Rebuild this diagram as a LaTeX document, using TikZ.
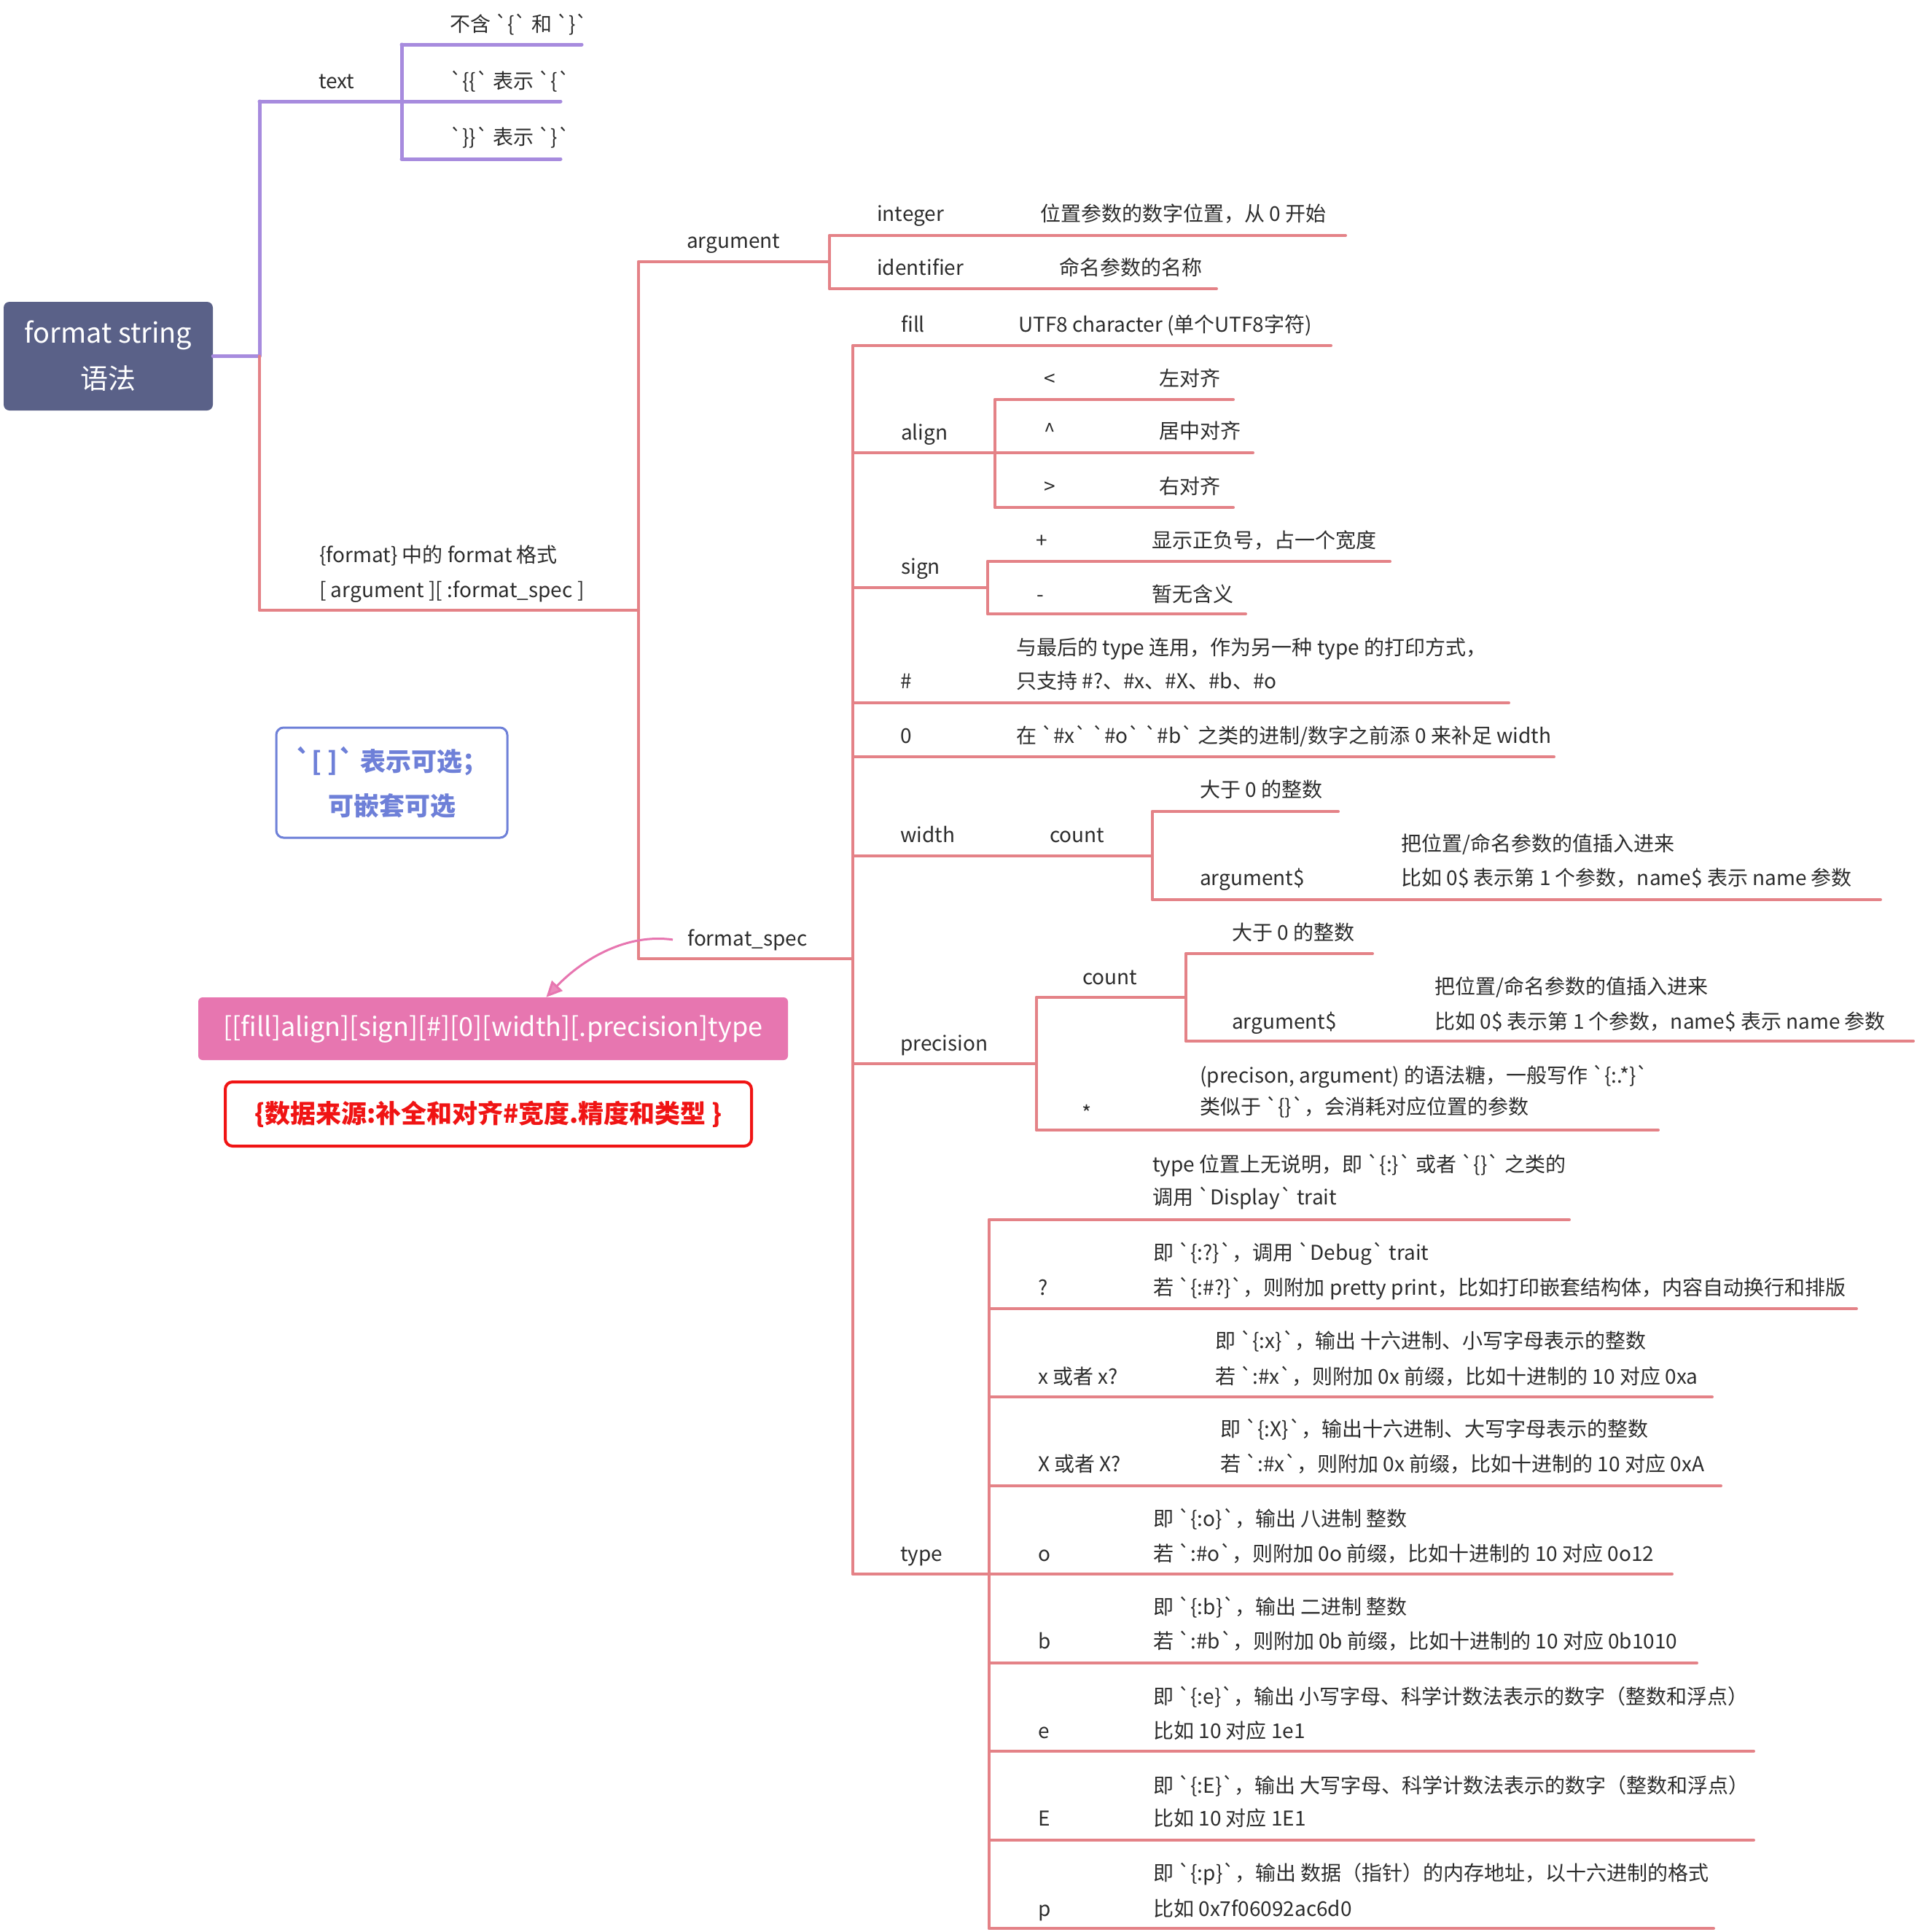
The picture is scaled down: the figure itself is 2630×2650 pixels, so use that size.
\documentclass[tikz,border=0pt]{standalone}
\usepackage{fontspec}
\newfontfamily\mf{Noto Sans CJK SC}
\usetikzlibrary{arrows.meta,calc}
\definecolor{rline}{RGB}{228,130,135}
\definecolor{pline}{RGB}{167,139,222}
\definecolor{rootc}{RGB}{90,97,136}
\definecolor{pinkc}{RGB}{231,118,176}
\definecolor{bluec}{RGB}{110,128,216}
\definecolor{redc}{RGB}{240,20,20}
\definecolor{txtc}{RGB}{45,45,45}
\newcommand\UL[5][rl]{\coordinate (#2-a) at (#3,-#5); \coordinate (#2-b) at (#4,-#5); \draw[#1] (#2-a) -- (#2-b);}
\newcommand\TX[4]{\node[lbl] (#1) at (#2,-#3) {#4};}
\newcommand\TC[4]{\node[lblc] (#1) at (#2,-#3) {#4};}
\begin{document}
\begin{tikzpicture}[x=1pt,y=1pt,
  lbl/.style={anchor=base west, inner sep=0pt, text=txtc, font=\mf\fontsize{28}{34}\selectfont},
  lblc/.style={lbl, anchor=base},
  rl/.style={draw=rline, line width=4pt, line cap=round},
  pl/.style={draw=pline, line width=5pt, line cap=round},
  rootbox/.style={rectangle, rounded corners=8pt, fill=rootc, text=white, minimum width=287pt, minimum height=149pt, inner sep=0pt, align=center, font=\mf\fontsize{38}{63}\selectfont},
  pinkbox/.style={rectangle, rounded corners=6pt, fill=pinkc, text=white, minimum width=809pt, minimum height=86pt, inner sep=0pt, font=\mf\fontsize{36}{40}\selectfont},
  redbox/.style={rectangle, rounded corners=10pt, draw=redc, line width=4pt, fill=white, text=redc, minimum width=722pt, minimum height=88pt, inner sep=0pt, font=\mf\bfseries\fontsize{35}{40}\selectfont},
  bluebox/.style={rectangle, rounded corners=10pt, draw=bluec, line width=3pt, fill=white, text=bluec, minimum width=317pt, minimum height=151pt, inner sep=0pt, align=center, font=\mf\bfseries\fontsize{35}{61}\selectfont},
]
\fill[white] (0,0) rectangle (2630,-2650);
\useasboundingbox (0,0) rectangle (2630,-2650);

% root
\node[rootbox] (root) at (148.5,-488.5) {format string\\语法};

% purple branch
\coordinate (rootJ) at (356,-488.5);
\draw[pl] (root.east) -- (rootJ);
\UL[pl]{textL}{356}{551}{139}
\draw[pl] (rootJ) -- (textL-a);
\UL[pl]{tA}{551}{798}{61}
\UL[pl]{tB}{551}{769}{139}
\UL[pl]{tC}{551}{769}{218}
\draw[pl] (tA-a) -- (tC-a);

% red branch
\UL{fmtL}{356}{876}{837}
\draw[rl] (rootJ) -- (fmtL-a);
\UL{argL}{876}{1138}{359}
\UL{fsL}{876}{1170}{1315}
\draw[rl] (argL-a) -- (fsL-a);
\UL{intL}{1138}{1846}{323}
\UL{idL}{1138}{1669}{396}
\draw[rl] (intL-a) -- (idL-a);

\UL{fillL}{1170}{1826}{474}
\UL{alignL}{1170}{1365}{621}
\UL{aA}{1365}{1692}{548}
\UL{aB}{1365}{1719}{621}
\UL{aC}{1365}{1692}{696}
\draw[rl] (aA-a) -- (aC-a);
\UL{signL}{1170}{1355}{806}
\UL{sA}{1355}{1907}{770}
\UL{sB}{1355}{1709}{842}
\draw[rl] (sA-a) -- (sB-a);
\UL{hashL}{1170}{2070}{964}
\UL{zeroL}{1170}{2132}{1038}
\UL{widthL}{1170}{1581}{1174}
\UL{wA}{1581}{1836}{1113}
\UL{wB}{1581}{2580}{1234}
\draw[rl] (wA-a) -- (wB-a);
\UL{precL}{1170}{1422}{1459}
\UL{pc}{1422}{1627}{1368}
\UL{pcA}{1627}{1883}{1308}
\UL{pcB}{1627}{2625}{1428}
\draw[rl] (pcA-a) -- (pcB-a);
\UL{pstar}{1422}{2275}{1550}
\draw[rl] (pc-a) -- (pstar-a);
\UL{typeL}{1170}{1357}{2159}
\UL{ty0L}{1357}{2153}{1673}
\UL{ty1L}{1357}{2547}{1795}
\UL{ty2L}{1357}{2349}{1916}
\UL{ty3L}{1357}{2361}{2038}
\UL{ty4L}{1357}{2294}{2159}
\UL{ty5L}{1357}{2328}{2281}
\UL{ty6L}{1357}{2406}{2402}
\UL{ty7L}{1357}{2406}{2524}
\UL{ty8L}{1357}{2351}{2645}
\draw[rl] (ty0L-a) -- (ty8L-a);
\draw[rl] (fillL-a) -- (typeL-a);

% texts
\TX{nText}{437}{121}{text}
\TX{tA1}{617}{43}{不含 `\{` 和 `\}`}
\TX{tB1}{617}{121}{`\{\{` 表示 `\{`}
\TX{tC1}{617}{198}{`\}\}` 表示 `\}`}
\TX{fmt1}{438}{771}{\{format\} 中的 format 格式}
\TX{fmt2}{438}{819}{[ argument ][ :format\_spec ]}
\TX{nArg}{942}{340}{argument}
\TX{fspec}{943}{1297}{format\_spec}
\TX{nInt}{1203}{303}{integer}
\TX{nIntd}{1427}{303}{位置参数的数字位置，从 0 开始}
\TX{nIdent}{1203}{377}{identifier}
\TX{nIdentd}{1453}{377}{命名参数的名称}
\TX{nFill}{1236}{455}{fill}
\TX{nFilld}{1397}{455}{UTF8 character (单个UTF8字符)}
\TX{nAlign}{1236}{603}{align}
\TC{nLt}{1440}{529}{<}
\TX{nLtd}{1590}{529}{左对齐}
\TC{nCt}{1440}{601}{\textasciicircum}
\TX{nCtd}{1590}{601}{居中对齐}
\TC{nGt}{1440}{677}{>}
\TX{nGtd}{1590}{677}{右对齐}
\TX{nSign}{1236}{787}{sign}
\TC{nPlus}{1429}{751}{+}
\TX{nPlusd}{1580}{751}{显示正负号，占一个宽度}
\TC{nMinus}{1427}{825}{-}
\TX{nMinusd}{1580}{825}{暂无含义}
\TX{nHash}{1235}{944}{\#}
\TX{nHashd1}{1394}{898}{与最后的 type 连用，作为另一种 type 的打印方式，}
\TX{nHashd2}{1394}{944}{只支持 \#?、\#x、\#X、\#b、\#o}
\TX{nZero}{1235}{1019}{0}
\TX{nZerod}{1394}{1019}{在 `\#x` `\#o`  `\#b` 之类的进制/数字之前添 0 来补足 width}
\TX{nWidth}{1235}{1155}{width}
\TX{nWcount}{1440}{1155}{count}
\TX{nWgt}{1646}{1093}{大于 0 的整数}
\TX{nWarg}{1646}{1214}{argument\$}
\TX{nWargd1}{1922}{1167}{把位置/命名参数的值插入进来}
\TX{nWargd2}{1922}{1214}{比如 0\$ 表示第 1 个参数，name\$ 表示 name 参数}
\TX{nPrec}{1235}{1441}{precision}
\TX{nPcount}{1485}{1350}{count}
\TX{nPgt}{1690}{1289}{大于 0 的整数}
\TX{nParg}{1690}{1411}{argument\$}
\TX{nPargd1}{1968}{1363}{把位置/命名参数的值插入进来}
\TX{nPargd2}{1968}{1411}{比如 0\$ 表示第 1 个参数，name\$ 表示 name 参数}
\TC{nStar}{1491}{1537}{*}
\TX{nStard1}{1646}{1485}{(precison, argument) 的语法糖，一般写作 `\{:.*\}`}
\TX{nStard2}{1646}{1528}{类似于 `\{\}`，会消耗对应位置的参数}
\TX{nType}{1235}{2141}{type}
\TX{ty0a}{1581}{1607}{type 位置上无说明，即 `\{:\}` 或者 `\{\}` 之类的}
\TX{ty0b}{1581}{1652}{调用 `Display` trait}
\TX{ty1}{1424}{1776}{?}
\TX{ty1a}{1582}{1728}{即 `\{:?\}`，调用 `Debug` trait}
\TX{ty1b}{1582}{1776}{若 `\{:\#?\}`，则附加 pretty print，比如打印嵌套结构体，内容自动换行和排版}
\TX{ty2}{1424}{1898}{x 或者 x?}
\TX{ty2a}{1667}{1849}{即 `\{:x\}`，输出 十六进制、小写字母表示的整数}
\TX{ty2b}{1667}{1898}{若 `:\#x`，则附加 0x 前缀，比如十进制的 10 对应 0xa}
\TX{ty3}{1424}{2018}{X 或者 X?}
\TX{ty3a}{1674}{1970}{即 `\{:X\}`，输出十六进制、大写字母表示的整数}
\TX{ty3b}{1674}{2018}{若 `:\#x`，则附加 0x 前缀，比如十进制的 10 对应 0xA}
\TX{ty4}{1424}{2141}{o}
\TX{ty4a}{1582}{2093}{即 `\{:o\}`，输出 八进制 整数}
\TX{ty4b}{1582}{2141}{若 `:\#o`，则附加 0o 前缀，比如十进制的 10 对应 0o12}
\TX{ty5}{1424}{2261}{b}
\TX{ty5a}{1582}{2214}{即 `\{:b\}`，输出 二进制 整数}
\TX{ty5b}{1582}{2261}{若 `:\#b`，则附加 0b 前缀，比如十进制的 10 对应 0b1010}
\TX{ty6}{1424}{2384}{e}
\TX{ty6a}{1582}{2337}{即 `\{:e\}`，输出 小写字母、科学计数法表示的数字（整数和浮点）}
\TX{ty6b}{1582}{2384}{比如 10 对应 1e1}
\TX{ty7}{1424}{2504}{E}
\TX{ty7a}{1582}{2459}{即 `\{:E\}`，输出 大写字母、科学计数法表示的数字（整数和浮点）}
\TX{ty7b}{1582}{2504}{比如 10 对应 1E1}
\TX{ty8}{1424}{2628}{p}
\TX{ty8a}{1582}{2579}{即 `\{:p\}`，输出 数据（指针）的内存地址，以十六进制的格式}
\TX{ty8b}{1582}{2628}{比如 0x7f06092ac6d0}

% floating boxes
\node[bluebox] (note) at (537.5,-1073.5) {`[ ]` 表示可选；\\可嵌套可选};
\node[pinkbox] (pbox) at (676.5,-1411) {[[fill]align][sign][\#][0][width][.precision]type};
\node[redbox] (rbox) at (670,-1528) {\{数据来源:补全和对齐\#宽度.精度和类型 \}};

\draw[pinkc, line width=3pt, -{Triangle[length=22pt,width=20pt,fill=pinkc!85!white]}]
  ([xshift=-20pt]fspec.west) .. controls (860,-1280) and (800,-1315) .. ($(pbox.north west)!0.59!(pbox.north east)$);
\end{tikzpicture}
\end{document}
